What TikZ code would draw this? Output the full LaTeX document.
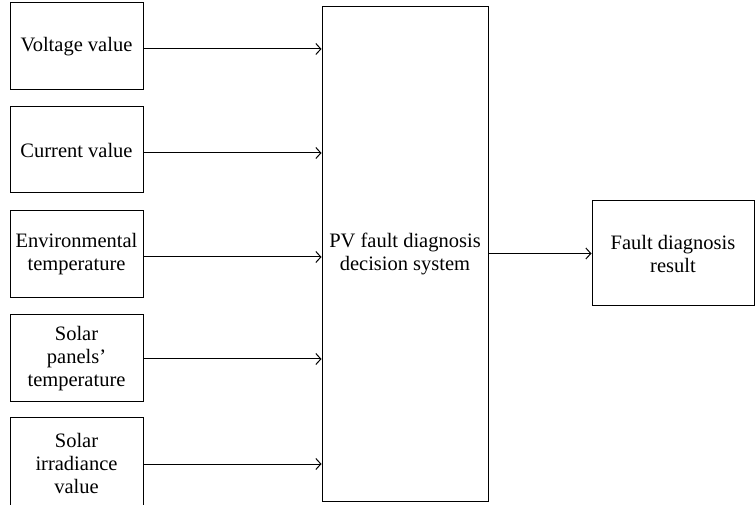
\documentclass[tikz,border=0pt]{standalone}
\usepackage{fontspec}
\setmainfont{Liberation Serif}
\usetikzlibrary{arrows.meta}
\begin{document}
\begin{tikzpicture}[x=1pt,y=-1pt,
  box/.style={draw, line width=1pt, align=center, inner sep=0pt, font=\fontsize{20.5}{23}\selectfont},
  arr/.style={line width=1pt, -{Straight Barb[length=5pt,width=11pt,line width=1pt]}}]
\useasboundingbox (0,0) rectangle (756,505);
\node[box, minimum width=133pt, minimum height=87pt] (v) at (76.5,46.5) {Voltage value};
\node[box, minimum width=133pt, minimum height=86pt] (c) at (76.5,150) {Current value};
\node[box, minimum width=133pt, minimum height=87pt] (e) at (76.5,254.5) {Environmental\\temperature};
\node[box, minimum width=133pt, minimum height=87pt] (p) at (76.5,358.5) {Solar\\panels'\\temperature};
\node[box, minimum width=133pt, minimum height=90pt] (s) at (76.5,463) {Solar\\irradiance\\value};
\node[box, minimum width=166pt, minimum height=494pt] (d) at (405,254) {PV fault diagnosis\\decision system};
\node[box, minimum width=162pt, minimum height=105pt] (r) at (673,253.5) {Fault diagnosis\\result};
\draw[arr] (v.east |- 0,49) -- (d.west |- 0,49);
\draw[arr] (c.east |- 0,153) -- (d.west |- 0,153);
\draw[arr] (e.east |- 0,257) -- (d.west |- 0,257);
\draw[arr] (p.east |- 0,359) -- (d.west |- 0,359);
\draw[arr] (s.east |- 0,464) -- (d.west |- 0,464);
\draw[arr] (d.east |- r.west) -- (r.west);
\end{tikzpicture}
\end{document}
